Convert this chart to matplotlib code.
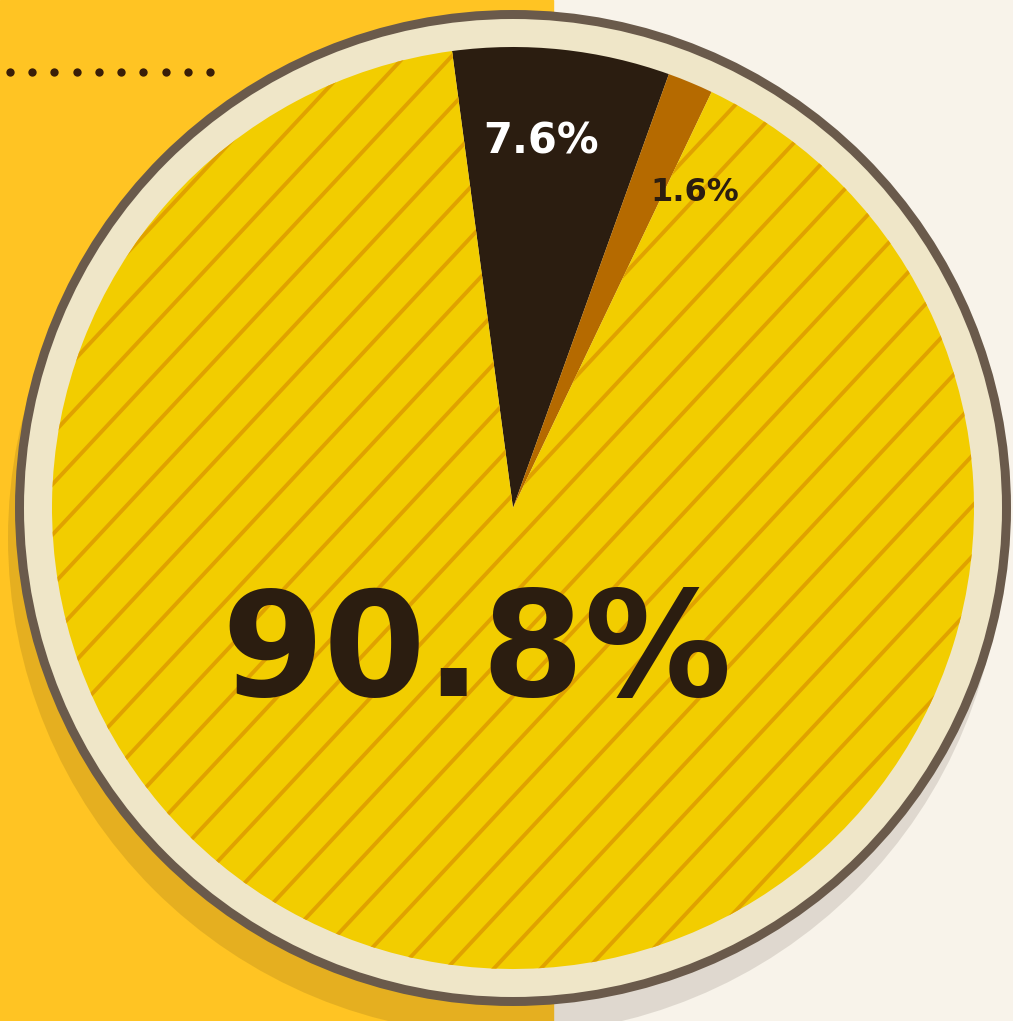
import numpy as np
import matplotlib
matplotlib.use("Agg")
import matplotlib.pyplot as plt
from matplotlib.patches import Circle, Rectangle
from matplotlib.collections import LineCollection

# data
shares = [7.6, 1.6, 90.8]
labels = ["7.6%", "1.6%", "90.8%"]
wedge_colors = ["#2B1D10", "#B56A00", "#F2CD00"]
label_colors = ["#FFFFFF", "#2B1D10", "#2B1D10"]

W, H = 1013, 1021
cx, cy = 513, 513
R = 461

fig = plt.figure(figsize=(W / 100, H / 100), dpi=100)
ax = fig.add_axes([0, 0, 1, 1])

# background: orange panel left, cream right
ax.add_patch(Rectangle((0, 0), W, H, color="#F8F3EA", zorder=0))
ax.add_patch(Rectangle((0, 0), 553, H, color="#FFC423", zorder=0))

# shadow + rings
ax.add_patch(Circle((cx - 8, cy - 30), 497, color="#2B1D10", alpha=0.12, lw=0, zorder=1))
ax.add_patch(Circle((cx, cy), 498, color="#6A5A4B", lw=0, zorder=2))
ax.add_patch(Circle((cx, cy), 489, color="#EFE6C8", lw=0, zorder=3))

wedges, _ = ax.pie(shares, colors=wedge_colors, startangle=97.6, counterclock=False,
                   center=(cx, cy), radius=R, wedgeprops=dict(linewidth=0))
for w in wedges:
    w.set_zorder(4)

# diagonal stripes on the big slice
a = np.deg2rad(47)
segs = []
for x0 in np.arange(-1200, 2000, 47):
    segs.append([(x0, 0), (x0 + 1400 * np.cos(a) / np.sin(a), 1400)])
lc = LineCollection(segs, colors="#E0A200", linewidths=2.8, zorder=5)
ax.add_collection(lc)
lc.set_clip_path(wedges[2])

# labels
ax.text(541, 879, labels[0], color=label_colors[0], fontsize=30, fontweight="bold",
        ha="center", va="center", zorder=6)
ax.text(695, 828, labels[1], color=label_colors[1], fontsize=23, fontweight="bold",
        ha="center", va="center", zorder=6)
ax.text(477, 366, labels[2], color=label_colors[2], fontsize=106, fontweight="bold",
        ha="center", va="center", zorder=6)

# dotted rule top-left
ax.scatter(np.linspace(10, 210, 10), [949] * 10, s=36, color="#3A1E08", zorder=6, lw=0)

ax.set_xlim(0, W)
ax.set_ylim(0, H)
ax.set_aspect("auto")
ax.axis("off")

fig.savefig("out.png", dpi=100)
